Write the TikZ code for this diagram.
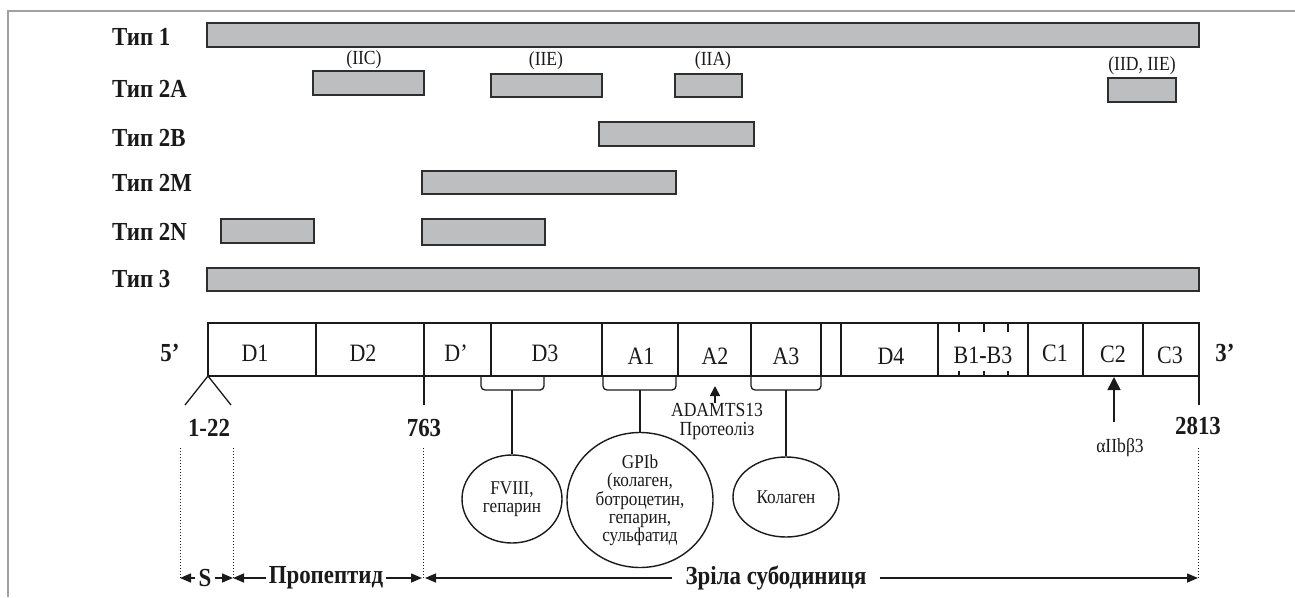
\documentclass[tikz,border=0pt]{standalone}
\usepackage{fontspec}
\setmainfont{Liberation Serif}[FakeStretch=0.88]
\usetikzlibrary{shapes.geometric,arrows.meta}
\definecolor{barfill}{HTML}{BCBEC0}
\definecolor{barline}{HTML}{2E2E2E}
\definecolor{framegray}{HTML}{A0A0A0}
\definecolor{ink}{HTML}{1A1A1A}
\begin{document}
\begin{tikzpicture}[x=1pt,y=-1pt, every node/.style={text=ink},
  bar/.style={draw=barline, fill=barfill, line width=1.8pt},
  lab/.style={font=\fontsize{26}{28}\selectfont\bfseries, inner sep=0pt},
  dom/.style={font=\fontsize{25}{27}\selectfont, inner sep=0pt},
  small/.style={font=\fontsize{20}{18}\selectfont, inner sep=0pt, align=center},
  boxline/.style={draw=ink, line width=1.3pt},
  oval/.style={ellipse, draw=ink, line width=1.4pt, inner sep=0pt, align=center, font=\fontsize{19.5}{18}\selectfont},
  tipbig/.style={draw=ink, line width=1.5pt, -{Triangle[length=11pt,width=9pt]}},
  tipc/.style={draw=ink, line width=1.6pt, -{Triangle[length=13pt,width=13pt]}},
  tipa/.style={draw=ink, line width=1.6pt, -{Triangle[length=10pt,width=10pt]}},
  dotline/.style={draw=ink, dotted, line width=1pt},
  frameline/.style={draw=framegray, line width=1.2pt}
]
\useasboundingbox (0,0) rectangle (1295,597);
\draw[frameline] (8,597) -- (8,11) -- (1295,11);

% type labels
\node[lab, anchor=west] (t1) at (112,37) {Тип 1};
\node[lab, anchor=west] (t2a) at (112,89) {Тип 2A};
\node[lab, anchor=west] (t2b) at (112,138) {Тип 2B};
\node[lab, anchor=west] (t2m) at (112,183) {Тип 2M};
\node[lab, anchor=west] (t2n) at (112,232) {Тип 2N};
\node[lab, anchor=west] (t3) at (112,279) {Тип 3};

% bars
\draw[bar] (207,23) rectangle (1199,47);
\draw[bar] (313,71) rectangle (424,95);
\draw[bar] (491,74) rectangle (602,97);
\draw[bar] (675,74) rectangle (742,97);
\draw[bar] (1108,78) rectangle (1176,102);
\draw[bar] (599,122) rectangle (754,146);
\draw[bar] (422,171) rectangle (676,194);
\draw[bar] (221,219) rectangle (314,243);
\draw[bar] (422,219) rectangle (545,245);
\draw[bar] (207,268) rectangle (1199,291);

% subtype labels
\node[small] (liic) at (364,60) {(IIC)};
\node[small] (liie) at (546,61) {(IIE)};
\node[small] (liia) at (713,61) {(IIA)};
\node[small] (liid) at (1142,66) {(IID, IIE)};

% domain block
\draw[boxline] (208,323) rectangle (1199,376);
\foreach \xx in {316,424,491,602,678,751,821,841,938,1028,1083,1143}
  \draw[boxline] (\xx,323) -- (\xx,376);
\foreach \xx in {959,984,1008} {
  \draw[boxline] (\xx,323) -- (\xx,332);
  \draw[boxline] (\xx,371) -- (\xx,376);
}
\node[lab] (p5) at (170,353) {5’};
\node[lab] (p3) at (1225,353) {3’};
\node[dom] (dd1) at (255,353) {D1};
\node[dom] (dd2) at (363,353) {D2};
\node[dom] (ddp) at (456,353) {D’};
\node[dom] (dd3) at (545,353) {D3};
\node[dom] (da1) at (641,356) {A1};
\node[dom] (da2) at (715,356) {A2};
\node[dom] (da3) at (786,356) {A3};
\node[dom] (dd4) at (891,356) {D4};
\node[dom] (db) at (983,355) {B1\textbf{-}B3};
\node[dom] (dc1) at (1055,353) {C1};
\node[dom] (dc2) at (1113,354) {C2};
\node[dom] (dc3) at (1170,355) {C3};

% brackets
\draw[boxline, rounded corners=4pt] (481,376) -- (481,390) -- (544,390) -- (544,376);
\draw[boxline, rounded corners=4pt] (603,376) -- (603,390) -- (676,390) -- (676,376);
\draw[boxline, rounded corners=4pt] (751,376) -- (751,390) -- (821,390) -- (821,376);
\coordinate (bd3) at (512,390);
\coordinate (ba1) at (640,390);
\coordinate (ba3) at (786,390);

% ovals
\node[oval, minimum width=100pt, minimum height=88pt] (fviii) at (512,499) {FVIII,\\гепарин};
\node[oval, minimum width=146pt, minimum height=135pt] (gpib) at (640,500) {GPIb\\(колаген,\\ботроцетин,\\гепарин,\\сульфатид};
\node[oval, minimum width=106pt, minimum height=80pt] (kol) at (786,497) {Колаген};
\draw[boxline] (bd3) -- (fviii.north);
\draw[boxline] (ba1) -- (gpib.north);
\draw[boxline] (ba3) -- (kol.north);

% positions below block
\coordinate (v0) at (208,376);
\coordinate (vl) at (185,405);
\coordinate (vr) at (231,405);
\draw[boxline] (vl) -- (v0) -- (vr);
\coordinate (m763) at (424,376);
\coordinate (m763b) at (424,405);
\draw[boxline] (m763) -- (m763b);
\coordinate (m2813) at (1199,376);
\coordinate (m2813b) at (1199,405);
\draw[boxline] (m2813) -- (m2813b);
\node[lab] (n122) at (209,428) {1-22};
\node[lab] (n763) at (424,428) {763};
\node[lab] (n2813) at (1198,426) {2813};

% ADAMTS13 arrow
\node[small] (adam) at (717,410) {ADAMTS13};
\node[small] (prot) at (717,431) {Протеоліз};
\coordinate (a2tip) at (715,386);
\draw[tipa] (adam.north -| a2tip) -- (a2tip);

% alphaIIb beta3 arrow
\node[small] (alpha) at (1120,448) {αIIbβ3};
\coordinate (c2foot) at (1114,422);
\coordinate (c2tip) at (1114,377);
\draw[tipc] (c2foot) -- (c2tip);

% dotted guides
\coordinate (g1t) at (180,448); \coordinate (g1) at (180,578);
\coordinate (g2t) at (233,448); \coordinate (g2) at (233,578);
\coordinate (g3t) at (423,448); \coordinate (g3) at (423,578);
\coordinate (g4t) at (1198,448); \coordinate (g4) at (1198,578);
\draw[dotline] (g1t) -- (g1);
\draw[dotline] (g2t) -- (g2);
\draw[dotline] (g3t) -- (g3);
\draw[dotline] (g4t) -- (g4);

% bottom spans
\node[lab, inner xsep=3pt] (ss) at (205,578) {S};
\node[lab, inner xsep=3pt] (prop) at (326,578) {Пропептид};
\node[lab, inner xsep=13pt] (zr) at (776,578) {Зріла субодиниця};
\draw[tipbig] (ss.west) -- (g1);
\draw[tipbig] (ss.east) -- (g2);
\draw[tipbig] (prop.west) -- (g2);
\draw[tipbig] (prop.east) -- ([xshift=-1pt]g3);
\draw[tipbig] (zr.west) -- ([xshift=2pt]g3);
\draw[tipbig] (zr.east) -- (g4);
\end{tikzpicture}
\end{document}
